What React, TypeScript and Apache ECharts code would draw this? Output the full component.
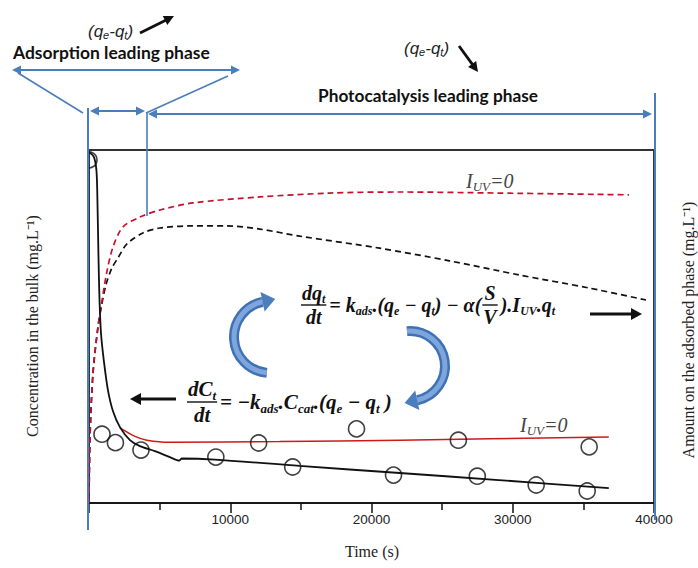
import React, { useEffect, useRef } from 'react';
import * as echarts from 'echarts';

// ---- data (time in s, values on an arbitrary 0-100 scale) ----
const xMin = 0;
const xMax = 40000;
const xStep = 10000;
const xTickLabels = ['10000', '20000', '30000', '40000'];

// bulk concentration with UV (black solid)
const concUV: [number, number][] = [
  [0, 99.4], [350, 98], [530, 94], [600, 85], [670, 70], [740, 58], [850, 48],
  [1060, 40], [1340, 32], [1700, 26], [2190, 21.5], [2900, 17.8], [3600, 16.1],
  [4660, 14.7], [5720, 13.0], [6400, 12.0], [6560, 12.6], [8900, 12.3],
  [14900, 10.5], [22000, 8.5], [29000, 6.5], [36800, 4.2],
];
// bulk concentration, I_UV = 0 (red solid)
const concDark: [number, number][] = [
  [2190, 21.3], [3300, 18.8], [4100, 17.8], [5720, 17.2], [13500, 17.4],
  [22000, 17.8], [36800, 18.7],
];
// adsorbed phase, I_UV = 0 (red dashed)
const adsDark: [number, number][] = [
  [0, 0], [71, 18.7], [283, 36.8], [636, 49.9], [897, 56.7], [1251, 65.2],
  [1696, 72.5], [2403, 78.2], [3604, 81.0], [5018, 83.0], [7350, 85.0],
  [12085, 86.7], [17032, 87.8], [21978, 88.1], [29045, 87.8], [38233, 87.3],
];
// adsorbed phase with UV (black dashed)
const adsUV: [number, number][] = [
  [0, 0], [71, 18.7], [283, 36.8], [636, 49.9], [897, 56.1], [1201, 61.8],
  [1625, 66.6], [2049, 69.4], [2686, 73.4], [3816, 76.5], [5018, 77.9],
  [7350, 78.5], [9753, 78.5], [12085, 77.6], [14912, 75.6], [20565, 72.2],
  [25512, 68.6], [30459, 64.6], [35406, 60.9], [39435, 57.5],
];
// experimental points
const expUV: [number, number][] = [
  [0, 97.2], [920, 19.5], [1870, 17.1], [3680, 15.0], [8980, 13.0],
  [14420, 10.2], [21560, 7.9], [27490, 7.6], [31660, 5.1], [35270, 3.4],
];
const expDark: [number, number][] = [
  [12010, 17.0], [18940, 21.0], [26150, 17.8], [35410, 15.9],
];

// ---- text layout helpers ----
type Seg = { t: string; sub?: boolean } | { num: Seg[]; den: Seg[] };
interface RowOpt {
  family: string; size: number; subSize: number; weight: string; style: string;
  fill: string; subDy: number;
}

const SERIF = '"Liberation Serif", "Times New Roman", serif';

function makeMeasure() {
  const c = document.createElement('canvas').getContext('2d') as CanvasRenderingContext2D;
  return (text: string, size: number, o: { family: string; weight: string; style: string }) => {
    c.font = `${o.style} ${o.weight} ${size}px ${o.family}`;
    return c.measureText(text).width;
  };
}

function row(segs: Seg[], x: number, yc: number, o: RowOpt, out: any[], measure: any): number {
  let cx = x;
  for (const s of segs) {
    if ('num' in s) {
      const wn = row(s.num, 0, 0, o, [], measure);
      const wd = row(s.den, 0, 0, o, [], measure);
      const W = Math.max(wn, wd) + 4;
      row(s.num, cx + (W - wn) / 2, yc - o.size * 0.6, o, out, measure);
      row(s.den, cx + (W - wd) / 2, yc + o.size * 0.62, o, out, measure);
      out.push({
        type: 'line', z: 20,
        shape: { x1: cx + 1, y1: yc, x2: cx + W - 1, y2: yc },
        style: { stroke: o.fill, lineWidth: 1.4 },
      });
      cx += W + 2;
    } else {
      const sz = s.sub ? o.subSize : o.size;
      out.push({
        type: 'text', z: 20, x: cx, y: yc + (s.sub ? o.subDy : 0),
        style: {
          text: s.t, fontSize: sz, fontFamily: o.family, fontWeight: o.weight,
          fontStyle: o.style, fill: o.fill, align: 'left', verticalAlign: 'middle',
        },
      });
      cx += measure(s.t, sz, o);
    }
  }
  return cx - x;
}

function arrow(x1: number, y1: number, x2: number, y2: number, color: string, lw: number,
  len: number, half: number, both: boolean): any[] {
  const dx = x2 - x1, dy = y2 - y1, L = Math.hypot(dx, dy);
  const ux = dx / L, uy = dy / L;
  const head = (tx: number, ty: number, vx: number, vy: number) => {
    const bx = tx - vx * len, by = ty - vy * len;
    return {
      type: 'polygon', z: 20,
      shape: { points: [[tx, ty], [bx - vy * half, by + vx * half], [bx + vy * half, by - vx * half]] },
      style: { fill: color },
    };
  };
  const sx = both ? x1 + ux * len * 0.7 : x1, sy = both ? y1 + uy * len * 0.7 : y1;
  const els: any[] = [
    { type: 'line', z: 20, shape: { x1: sx, y1: sy, x2: x2 - ux * len * 0.7, y2: y2 - uy * len * 0.7 },
      style: { stroke: color, lineWidth: lw } },
    head(x2, y2, ux, uy),
  ];
  if (both) els.push(head(x1, y1, -ux, -uy));
  return els;
}

function seg(x1: number, y1: number, x2: number, y2: number, color: string, lw: number) {
  return { type: 'line', z: 20, shape: { x1, y1, x2, y2 }, style: { stroke: color, lineWidth: lw } };
}

function curvedArrow(cx: number, cy: number, r: number, a0: number, a1: number): any[] {
  const s = (a0 * Math.PI) / 180, e = (a1 * Math.PI) / 180;
  const ex = cx + r * Math.cos(e), ey = cy + r * Math.sin(e);
  const tx = -Math.sin(e), ty = Math.cos(e);
  const px = Math.cos(e), py = Math.sin(e);
  const len = 13, half = 10;
  return [
    { type: 'arc', z: 19, shape: { cx, cy, r, startAngle: s, endAngle: e, clockwise: true },
      style: { stroke: '#3f72b5', lineWidth: 10, fill: null } },
    { type: 'arc', z: 19, shape: { cx, cy, r, startAngle: s, endAngle: e, clockwise: true },
      style: { stroke: '#7ea6dc', lineWidth: 5, fill: null } },
    { type: 'polygon', z: 19,
      shape: { points: [[ex + tx * len, ey + ty * len], [ex + px * half, ey + py * half], [ex - px * half, ey - py * half]] },
      style: { fill: '#4a7ebf' } },
  ];
}

export default function App() {
  const ref = useRef<HTMLDivElement>(null);
  useEffect(() => {
    if (!ref.current) return;
    const chart = echarts.init(ref.current, null, { renderer: 'svg' });
    const measure = makeMeasure();
    const g: any[] = [];

    // mask outside the plot on the left, so the first point shows as a half circle
    g.push({ type: 'rect', z: 15, shape: { x: 66, y: 140, width: 21, height: 40 }, style: { fill: '#fff' } });

    // equations
    const eqOpt: RowOpt = { family: SERIF, size: 20, subSize: 12, weight: 'bold', style: 'italic', fill: '#111', subDy: 6 };
    row([
      { num: [{ t: 'dq' }, { t: 't', sub: true }], den: [{ t: 'dt' }] },
      { t: '= k' }, { t: 'ads', sub: true }, { t: '.(q' }, { t: 'e', sub: true },
      { t: ' − q' }, { t: 't', sub: true }, { t: ') − α(' },
      { num: [{ t: 'S' }], den: [{ t: 'V' }] },
      { t: ').I' }, { t: 'UV', sub: true }, { t: '.q' }, { t: 't', sub: true },
    ], 300, 305, eqOpt, g, measure);
    const eq2Opt: RowOpt = { ...eqOpt, size: 21, subSize: 13 };
    row([
      { num: [{ t: 'dC' }, { t: 't', sub: true }], den: [{ t: 'dt' }] },
      { t: '= −k' }, { t: 'ads', sub: true }, { t: '.C' }, { t: 'cat', sub: true },
      { t: '.(q' }, { t: 'e', sub: true }, { t: ' − q' }, { t: 't', sub: true }, { t: ' )' },
    ], 186, 402, eq2Opt, g, measure);

    // I_UV = 0 labels
    const iuv: RowOpt = { family: SERIF, size: 20, subSize: 13, weight: 'normal', style: 'italic', fill: '#444', subDy: 5 };
    row([{ t: 'I' }, { t: 'UV', sub: true }, { t: '=0' }], 466, 181, iuv, g, measure);
    row([{ t: 'I' }, { t: 'UV', sub: true }, { t: '=0' }], 520, 425, iuv, g, measure);

    // (qe-qt) labels
    const qq: RowOpt = { family: '"Liberation Sans", Arial, sans-serif', size: 17, subSize: 11, weight: 'normal', style: 'italic', fill: '#222', subDy: 4 };
    row([{ t: '(q' }, { t: 'e', sub: true }, { t: '-q' }, { t: 't', sub: true }, { t: ')' }], 88, 31, qq, g, measure);
    row([{ t: '(q' }, { t: 'e', sub: true }, { t: '-q' }, { t: 't', sub: true }, { t: ')' }], 404, 48, qq, g, measure);

    // phase headings fitted to their widths
    const headFont = { family: 'Lato, "Open Sans", sans-serif', weight: 'bold', style: 'normal' };
    const fit = (text: string, target: number) => (16 * target) / measure(text, 16, headFont);
    const heading = (text: string, x: number, y: number, w: number) => ({
      type: 'text', z: 20, x, y,
      style: { text, fontSize: fit(text, w), fontFamily: headFont.family, fontWeight: 'bold', fill: '#111', align: 'left', verticalAlign: 'middle' },
    });
    g.push(heading('Adsorption leading phase', 13, 52, 197));
    g.push(heading('Photocatalysis leading phase', 318, 95, 220));

    // blue phase markers
    const blue = '#4a7ebb';
    g.push(...arrow(12, 70, 240, 70, blue, 1.8, 9, 4.5, true));
    g.push(seg(18, 73, 83, 113, blue, 1.6));
    g.push(seg(228, 76, 146, 113, blue, 1.6));
    g.push(...arrow(90, 111, 145, 111, blue, 1.8, 9, 4.5, true));
    g.push(...arrow(148, 114, 652, 114, blue, 1.8, 9, 4.5, true));
    g.push(seg(88, 108, 88, 530, blue, 2));
    g.push(seg(147, 112, 147, 216, blue, 1.6));
    g.push(seg(655, 93, 655, 520, blue, 2));

    // black arrows
    const blk = '#111';
    g.push(...arrow(140, 33, 174, 16, blk, 2.8, 10, 5, false));
    g.push(...arrow(459, 46, 478, 72, blk, 2.8, 10, 5, false));
    g.push(...arrow(590, 314, 642, 314, blk, 2.8, 11, 6, false));
    g.push(...arrow(176, 399, 130, 399, blk, 2.8, 11, 6, false));

    // blue curved arrows
    g.push(...curvedArrow(270, 337, 36, 95, 258));
    g.push(...curvedArrow(410, 366, 35, -95, 78));

    // axis titles
    g.push({
      type: 'text', z: 20, x: 32, y: 326, rotation: Math.PI / 2,
      style: { text: 'Concentration in the bulk (mg.L⁻¹)', fontSize: 16, fontFamily: SERIF, fill: '#222', align: 'center', verticalAlign: 'middle' },
    });
    g.push({
      type: 'text', z: 20, x: 688, y: 330, rotation: Math.PI / 2,
      style: { text: 'Amount on the adsorbed phase (mg.L⁻¹)', fontSize: 16, fontFamily: SERIF, fill: '#222', align: 'center', verticalAlign: 'middle' },
    });
    g.push({
      type: 'text', z: 20, x: 372, y: 551,
      style: { text: 'Time (s)', fontSize: 16, fontFamily: SERIF, fill: '#222', align: 'center', verticalAlign: 'middle' },
    });

    const yAx = (position: 'left' | 'right') => ({
      type: 'value', min: 0, max: 100, position,
      axisLine: { show: false }, axisTick: { show: false }, axisLabel: { show: false }, splitLine: { show: false },
    });

    chart.setOption({
      animation: false,
      backgroundColor: '#fff',
      grid: { left: 89, right: 44, top: 150, bottom: 65, show: true, borderColor: '#333', borderWidth: 2 },
      xAxis: {
        type: 'value', min: xMin, max: xMax, interval: xStep,
        axisLine: { lineStyle: { color: '#111', width: 1.6 } },
        axisTick: { length: 10, lineStyle: { color: '#111', width: 1.5 } },
        minorTick: { show: true, splitNumber: 2, length: 7, lineStyle: { color: '#111', width: 1.5 } },
        splitLine: { show: false },
        axisLabel: {
          margin: 9, color: '#222', fontSize: 13.5, fontFamily: '"Liberation Sans", Arial, sans-serif',
          formatter: (v: number) => (xTickLabels.includes(String(v)) ? String(v) : ''),
        },
      },
      yAxis: [yAx('left'), yAx('right')],
      series: [
        { type: 'line', data: adsDark, yAxisIndex: 1, showSymbol: false, smooth: 0.3, z: 3,
          lineStyle: { color: '#c8102e', width: 1.7, type: [6, 4] } },
        { type: 'line', data: adsUV, yAxisIndex: 1, showSymbol: false, smooth: 0.3, z: 2,
          lineStyle: { color: '#111', width: 1.7, type: [6, 4] } },
        { type: 'line', data: concDark, showSymbol: false, smooth: 0.3, z: 3,
          lineStyle: { color: '#cc1a1a', width: 1.5 } },
        { type: 'line', data: concUV, showSymbol: false, smooth: 0.3, z: 4,
          lineStyle: { color: '#111', width: 1.8 } },
        { type: 'scatter', data: expUV, symbol: 'circle', symbolSize: 16, z: 5,
          itemStyle: { color: 'rgba(0,0,0,0)', borderColor: '#111', borderWidth: 1.6 } },
        { type: 'scatter', data: expDark, symbol: 'circle', symbolSize: 16, z: 5,
          itemStyle: { color: 'rgba(0,0,0,0)', borderColor: '#111', borderWidth: 1.6 } },
      ],
      graphic: g,
    });
    return () => chart.dispose();
  }, []);
  return <div ref={ref} style={{ position: 'fixed', left: 0, top: 0, width: 698, height: 568, background: '#fff' }} />;
}
